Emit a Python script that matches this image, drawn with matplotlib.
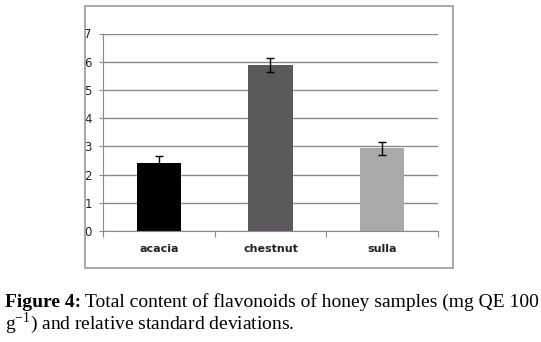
import matplotlib.pyplot as plt
import matplotlib.patches as mpatches
import numpy as np

honey = ["acacia", "chestnut", "sulla"]
flavonoids = [2.41, 5.89, 2.93]
std_dev = [0.26, 0.25, 0.24]
bar_colors = ["#000000", "#5b595b", "#a9a9a9"]

W, H = 541, 342
fig = plt.figure(figsize=(W / 100, H / 100), dpi=100)

# outer grey frame of the excel chart
frame = mpatches.Rectangle((85 / W, 1 - 268 / H), (453 - 85) / W, (268 - 6) / H,
                           transform=fig.transFigure, fill=False,
                           edgecolor="#9a9a9a", lw=1.2)
fig.patches.append(frame)

ax = fig.add_axes([103 / W, 1 - 231 / H, (438 - 103) / W, (231 - 33.5) / H])

x = np.arange(len(honey))
ax.bar(x, flavonoids, 0.4, color=bar_colors, zorder=2)
ax.errorbar(x, flavonoids, yerr=std_dev, fmt="none", ecolor="black",
            elinewidth=1, capsize=3, capthick=1, zorder=3)

ax.set_xlim(-0.5, 2.5)
ax.set_ylim(0, 7)
ax.set_yticks(range(8))
ax.yaxis.grid(True, color="#8a8a8a", lw=1, zorder=0)

# ticks between categories, labels at centres
ax.set_xticks(np.arange(-0.5, 3, 1))
ax.set_xticklabels([])
ax.set_xticks(x, minor=True)
ax.set_xticklabels(honey, minor=True, fontsize=8, fontweight="bold", color="#222222")
ax.tick_params(axis="x", which="minor", length=0, pad=9)
ax.tick_params(axis="x", which="major", length=4, color="#8a8a8a")
ax.tick_params(axis="y", length=3, color="#8a8a8a", labelsize=8.5, pad=5,
               labelcolor="#222222")

for side in ["top", "right"]:
    ax.spines[side].set_visible(False)
ax.spines["left"].set_color("#8a8a8a")
ax.spines["bottom"].set_color("#8a8a8a")

# caption below the chart
cap_font = ["Liberation Serif", "DejaVu Serif"]
t1 = fig.text(5 / W, 1 - 307 / H, "Figure 4:", fontsize=14, family=cap_font,
              fontweight="bold", va="baseline", ha="left")
fig.canvas.draw()
bb = t1.get_window_extent()
fig.text((bb.x1 + 4) / W, 1 - 307 / H,
         "Total content of flavonoids of honey samples (mg QE 100",
         fontsize=14, family=cap_font, va="baseline", ha="left")
fig.text(5 / W, 1 - 329 / H, r"g$^{\mathregular{-1}}$) and relative standard deviations.",
         fontsize=14, family=cap_font, va="baseline", ha="left")

fig.savefig("out.png", dpi=100)
